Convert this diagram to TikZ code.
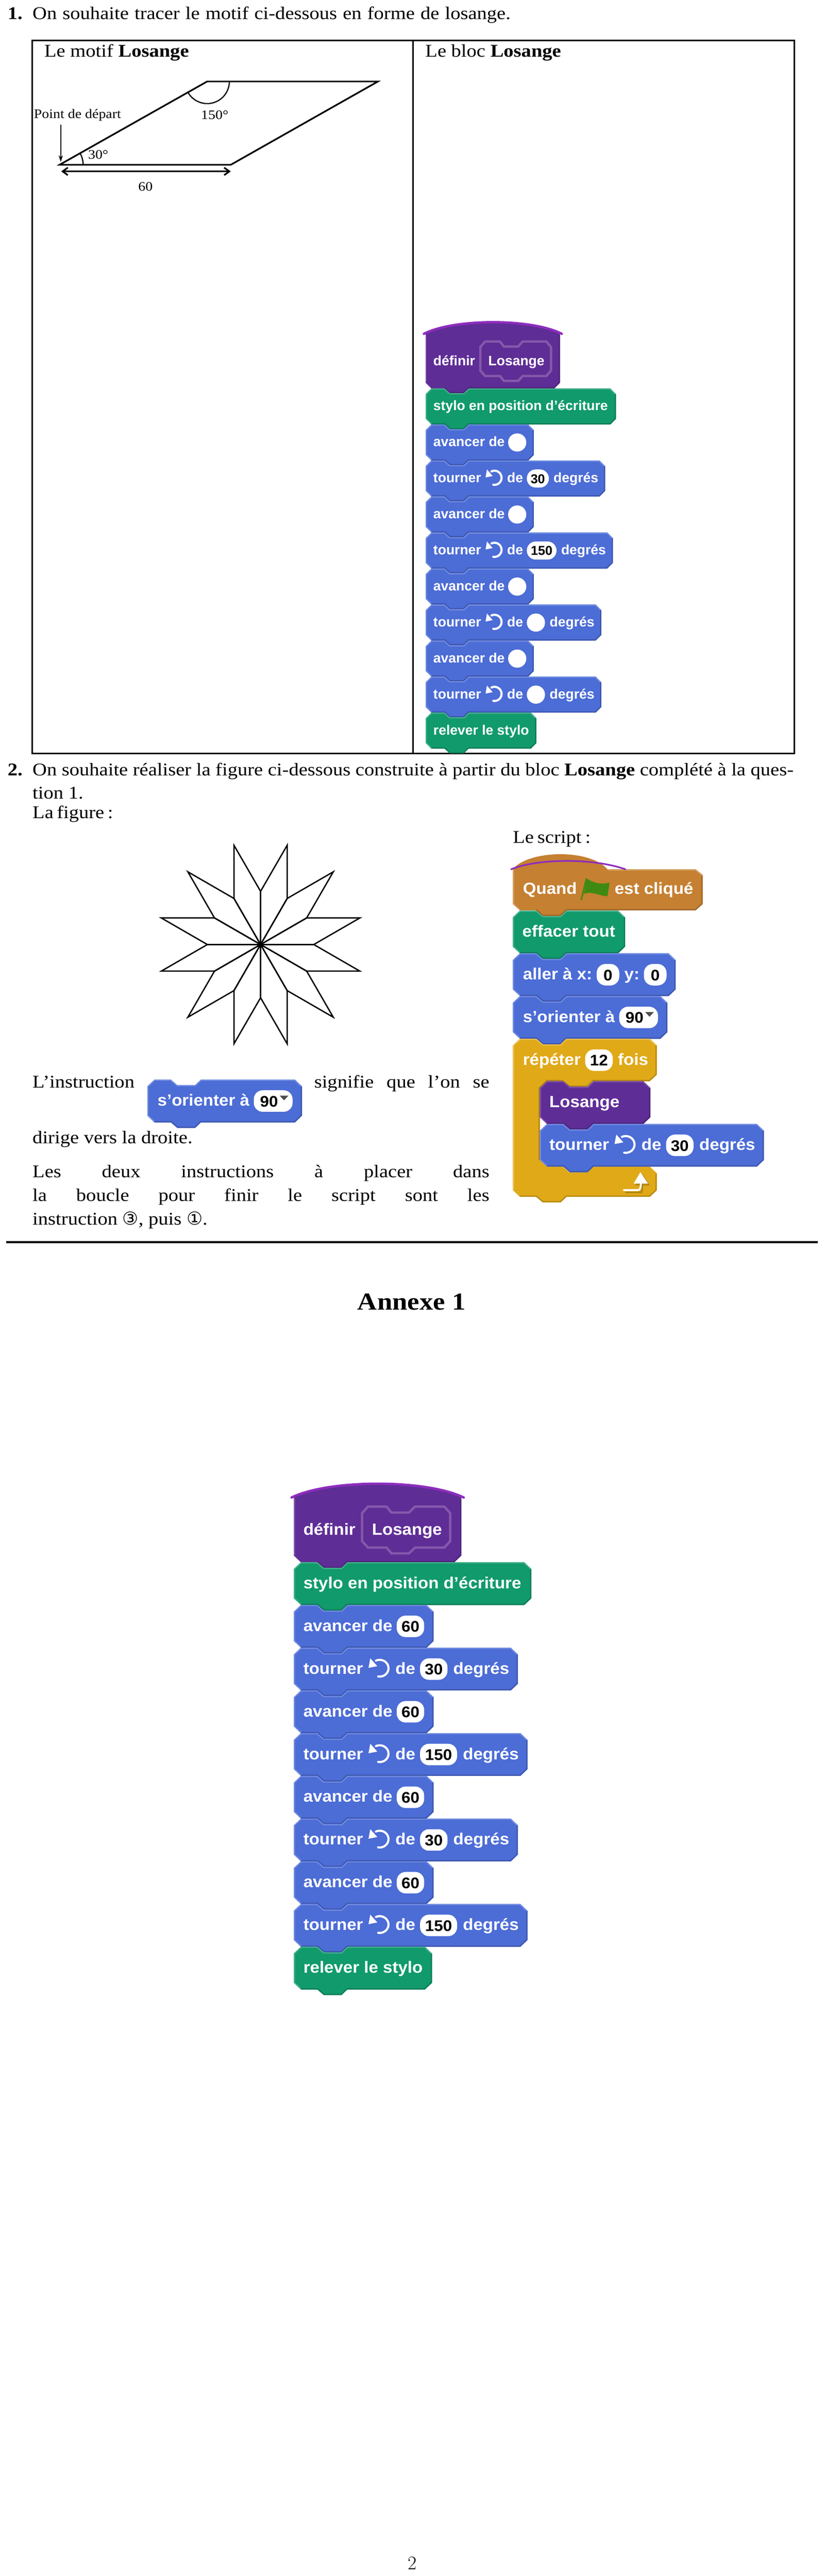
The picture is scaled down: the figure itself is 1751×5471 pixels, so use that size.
\documentclass[tikz,border=0pt]{standalone}
\usepackage{fontspec}
\usetikzlibrary{arrows.meta,calc}
\newfontfamily\cmfont{Latin Modern Roman}
\setmainfont[FakeStretch=1.11]{Liberation Serif}
\newfontfamily\blkfont{Liberation Sans}
\newfontfamily\symfont{DejaVu Sans}
\definecolor{bluef}{HTML}{4C6CD6}\definecolor{bluel}{HTML}{6F8AE0}\definecolor{blued}{HTML}{3D56AC}
\definecolor{greenf}{HTML}{119A6C}\definecolor{greenl}{HTML}{40AE8A}\definecolor{greend}{HTML}{0D7B56}
\definecolor{purplef}{HTML}{5F2D96}\definecolor{purplel}{HTML}{7A4BA8}\definecolor{purpled}{HTML}{4C2478}
\definecolor{orangef}{HTML}{C58031}\definecolor{orangel}{HTML}{D39C5A}\definecolor{oranged}{HTML}{9E6627}
\definecolor{yellowf}{HTML}{E0A918}\definecolor{yellowl}{HTML}{E9BE4C}\definecolor{yellowd}{HTML}{B38712}
\definecolor{capviolet}{HTML}{8E2DBE}\definecolor{paramline}{HTML}{8558AA}\definecolor{flagg}{HTML}{3F8A12}
\newcommand\bodyf{\fontsize{38}{44}\selectfont}
\newcommand\figf{\fontsize{27.5}{33}\selectfont}
\newcounter{nd}
\tikzset{
  bodytxt/.style={anchor=base west,inner sep=0pt,font=\bodyf,text=black},
  figtxt/.style={anchor=base,inner sep=0pt,font=\figf,text=black},
  blktxt/.style={anchor=base west,inner sep=0pt,font=\blkfont\bfseries\fontsize{29}{36}\selectfont,text=white},
  pilltxt/.style={anchor=base,inner sep=0pt,font=\blkfont\bfseries\fontsize{27.5}{34}\selectfont,text=black},
  blockscale/.style={xscale=1.248,yscale=1.186,transform shape},
}
\newcommand\blockpath[2]{(0,12) -- (12,0) -- (40,0) -- (51,10) -- (81,10) -- (91,0) -- (#1-12,0) -- (#1,12) -- (#1,#2-12) -- (#1-12,#2) -- (91,#2) -- (81,#2+10) -- (51,#2+10) -- (40,#2) -- (12,#2) -- (0,#2-12) -- cycle}
% y, w, h, colour prefix
\newcommand\stackblock[4]{%
  \begin{scope}[shift={(0,#1)}]
    \fill[#4f] \blockpath{#2}{#3};
    \begin{scope}
      \clip \blockpath{#2}{#3};
      \draw[#4l,line width=5] (12,#3) -- (0,#3-12) -- (0,12) -- (12,0) -- (40,0) -- (51,10) -- (81,10) -- (91,0) -- (#2-12,0) -- (#2,12);
      \draw[#4d,line width=5] (#2,12) -- (#2,#3-12) -- (#2-12,#3) -- (91,#3) -- (81,#3+10) -- (51,#3+10) -- (40,#3) -- (12,#3);
    \end{scope}
  \end{scope}}
\newcommand\btxt[3]{\stepcounter{nd}\node[blktxt] (b\arabic{nd}) at (#1,#2+47) {#3};}
\newcommand\pill[4]{% x, y, w, text
  \fill[white,rounded corners=19] (#1,#2+19) rectangle (#1+#3,#2+57.5);
  \stepcounter{nd}\node[pilltxt] (p\arabic{nd}) at (#1+#3/2,#2+48.5) {#4};}
\newcommand\turnicon[2]{% x offset, y
  \begin{scope}[shift={(#1,#2)}]
    \draw[white,line width=4.5,line cap=round] plot[domain=100:-115,samples=30] ({146+15*cos(\x)},{36.7+15*sin(\x)});
    \fill[white] (130,19) -- (127,36) -- (142,33) -- cycle;
  \end{scope}}
\newcommand\avancerblock[3]{% y, pill width, value
  \stackblock{#1}{175+#2+16}{76.5}{blue}
  \btxt{16}{#1}{avancer de}
  \pill{175}{#1}{#2}{#3}}
\newcommand\tournerblock[4]{% x, y, pill width, value
  \begin{scope}[shift={(#1,0)}]
  \stackblock{#2}{214.7+#3+9.7+94+16}{76.5}{blue}
  \btxt{16}{#2}{tourner}
  \turnicon{0}{#2}
  \btxt{172.7}{#2}{de}
  \pill{214.7}{#2}{#3}{#4}
  \btxt{214.7+#3+9.7}{#2}{degrés}
  \end{scope}}
\newcommand\plainblock[4]{% y,w,colour,text
  \stackblock{#1}{#2}{76.5}{#3}
  \btxt{16}{#1}{#4}}
\newcommand\definirblock{%
  \begin{scope}[shift={(0,-116)}]
    \fill[purplef] (0,0) .. controls (60,-33) and (225,-33) .. (285,0) -- (285,104) -- (273,116) -- (91,116) -- (81,126) -- (51,126) -- (40,116) -- (12,116) -- (0,104) -- cycle;
    \draw[purplel,line width=2.5] (1.2,2) -- (1.2,103);
    \draw[purpled,line width=2.5] (283.8,2) -- (283.8,103.5) -- (272.5,114.8) -- (91,114.8) -- (81,124.8) -- (51,124.8) -- (40,114.8);
    \draw[capviolet,line width=5,line cap=round] (-4,0) .. controls (60,-33) and (225,-33) .. (289,0);
    \draw[paramline,line width=5] (116,28) -- (126,16.3) -- (157.7,16.3) -- (166,27) -- (196,27) -- (206,16.3) -- (256,16.3) -- (266,28) -- (266,78) -- (256,89.7) -- (206,89.7) -- (196,100) -- (166,100) -- (157.7,89.7) -- (126,89.7) -- (116,78) -- cycle;
    \stepcounter{nd}\node[blktxt,anchor=base west] (b\arabic{nd}) at (16,67) {définir};
    \stepcounter{nd}\node[blktxt,anchor=base west] (b\arabic{nd}) at (132.7,67) {Losange};
  \end{scope}}
\newcommand\orienterblock[1]{% y
  \stackblock{#1}{263}{76.5}{blue}
  \btxt{17}{#1}{s’orienter à}
  \fill[white,rounded corners=19] (181,#1+19) rectangle (247,#1+57.5);
  \stepcounter{nd}\node[pilltxt] (p\arabic{nd}) at (207,#1+48.5) {90};
  \fill[black!70] (225,#1+28.5) -- (240,#1+28.5) -- (232.5,#1+37) -- cycle;}
\begin{document}
\begin{tikzpicture}[x=1pt,y=-1pt]
\useasboundingbox (0,0) rectangle (1751,5471);
\fill[white] (0,0) rectangle (1751,5471);

% --- question 1
\node[bodytxt] (num1) at (16,41) {\textbf{1.}};
\node[bodytxt] (q1) at (69,41) {\makebox[1015pt][s]{On souhaite tracer le motif ci-dessous en forme de losange.}};
\draw[line width=3] (68,86) rectangle (1687,1600);
\draw[line width=3] (877,86) -- (877,1600);
\node[bodytxt] (hl) at (94,121) {Le motif \textbf{Losange}};
\node[bodytxt] (hr) at (903,121) {Le bloc \textbf{Losange}};

% --- rhombus
\coordinate (A) at (126.5,350);
\coordinate (B) at (490,350);
\coordinate (C) at (802.6,173);
\coordinate (D) at (440,173);
\draw[line width=3.5,miter limit=10] (A) -- (B) -- (C) -- (D) -- cycle;
\draw[line width=2.5] plot[domain=0:150,samples=40] ({440+47*cos(\x)},{173+47*sin(\x)});
\draw[line width=2.5] plot[domain=0:-30,samples=20] ({126.5+50*cos(\x)},{350+50*sin(\x)});
\coordinate (arrowtop) at (129,265);
\coordinate (arrowtip) at (129,344);
\draw[line width=2.5,-{Stealth[length=14,width=9]}] (arrowtop) -- (arrowtip);
\coordinate (dimL) at (130,364);
\coordinate (dimR) at (490,364);
\draw[line width=3.5,{Straight Barb[length=11,width=16]}-{Straight Barb[length=11,width=16]}] (dimL) -- (dimR);
\node[figtxt,anchor=base west] (depart) at (72,251) {Point de départ};
\node[figtxt] (a150) at (456,253) {150°};
\node[figtxt,anchor=base west] (a30) at (187,338) {30°};
\node[figtxt] (l60) at (309,405) {60};

% --- block Losange incomplete
\begin{scope}[shift={(904,825)}]
  \definirblock
  \plainblock{0}{404}{green}{stylo en position d’écriture}
  \avancerblock{76.5}{38.5}{}
  \tournerblock{0}{153}{46.7}{30}
  \avancerblock{229.5}{38.5}{}
  \tournerblock{0}{306}{63}{150}
  \avancerblock{382.5}{38.5}{}
  \tournerblock{0}{459}{38.5}{}
  \avancerblock{535.5}{38.5}{}
  \tournerblock{0}{612}{38.5}{}
  \plainblock{688.5}{235}{green}{relever le stylo}
\end{scope}

% --- question 2
\node[bodytxt] (num2) at (16,1647) {\textbf{2.}};
\node[bodytxt] (q2a) at (69,1647) {\makebox[1616pt][s]{On souhaite réaliser la figure ci-dessous construite à partir du bloc \textbf{Losange} complété à la ques-}};
\node[bodytxt] (q2b) at (69,1697) {tion 1.};
\node[bodytxt] (q2c) at (69,1738) {\makebox[168pt][s]{La figure :}};
\node[bodytxt] (scr) at (1089,1791) {\makebox[165pt][s]{Le script :}};

% --- star
\coordinate (O) at (553.3,2006);
\foreach \k in {0,30,...,330}{
  \draw[line width=2.8,miter limit=12] (O) -- ($(O)+(\k:113)$) -- ($(O)+(\k+15:218.3)$) -- ($(O)+(\k+30:113)$) -- cycle;
}

% --- text column
\node[bodytxt] (i1) at (69,2310) {L’instruction};
\node[bodytxt] (i2) at (667,2310) {\makebox[372pt][s]{signifie que l’on se}};
\node[bodytxt] (i3) at (69,2429) {dirige vers la droite.};
\node[bodytxt] (i4) at (69,2501) {\makebox[970pt][s]{Les deux instructions à placer dans}};
\node[bodytxt] (i5) at (69,2551) {\makebox[970pt][s]{la boucle pour finir le script sont les}};
\node[bodytxt] (i6) at (69,2601) {instruction {\symfont ③}, puis {\symfont ①}.};

% --- inline block
\begin{scope}[shift={(313,2293)},blockscale]
  \orienterblock{0}
\end{scope}

% --- script
\begin{scope}[shift={(1089,1934)},blockscale]
  % hat block
  \begin{scope}[shift={(0,-77)}]
    \fill[orangef] (0,3) .. controls (25,-31) and (130,-35) .. (161,3) -- (311,3) -- (323,13) -- (323,65) -- (311,76.5) -- (91,76.5) -- (81,86.5) -- (51,86.5) -- (40,76.5) -- (12,76.5) -- (0,65) -- cycle;
    \draw[oranged,line width=2.5] (321.8,13) -- (321.8,65) -- (310.5,75.3) -- (91,75.3) -- (81,85.3) -- (51,85.3) -- (40,75.3);
    \draw[orangel,line width=2.5] (161,4.2) -- (311,4.2) -- (322,14);
    \draw[orangel,line width=2.5] (1.2,3) -- (1.2,65) -- (12,75.3);
    \draw[capviolet,line width=3.5,line cap=round] (-3,3) .. controls (40,-16) and (135,-18) .. (191.5,3);
    \btxt{17}{0}{Quand}
    \fill[flagg] (125.6,19.5) .. controls (140,29) and (150,30) .. (164.6,27) -- (161,51) .. controls (150,52) and (135,41) .. (121,47) -- cycle;
    \draw[flagg,line width=3] (116.4,58) -- (125,19.5);
    \btxt{173}{0}{est cliqué}
  \end{scope}
  \plainblock{0}{191}{green}{effacer tout}
  % aller
  \stackblock{76.5}{277}{76.5}{blue}
  \btxt{17}{76.5}{aller à x:}
  \pill{142.6}{76.5}{38.5}{0}
  \btxt{189.5}{76.5}{y:}
  \pill{223}{76.5}{38.5}{0}
  \orienterblock{153}
  % repeat block
  \begin{scope}[shift={(0,229.5)}]
    \fill[yellowf] (0,12) -- (12,0) -- (40,0) -- (51,10) -- (81,10) -- (91,0) -- (233,0) -- (245,12) -- (245,64) -- (233,76) -- (136,76) -- (126,86) -- (96,86) -- (84,76) -- (58,76) -- (46,88) -- (46,217) -- (58,229) -- (85,229) -- (96,239) -- (126,239) -- (136,229) -- (233,229) -- (245,241) -- (245,271) -- (233,283) -- (91,283) -- (81,293) -- (51,293) -- (40,283) -- (12,283) -- (0,271) -- cycle;
    \draw[yellowl,line width=2.5] (1.2,270) -- (1.2,12.5) -- (12.5,1.2) -- (40,1.2) -- (51,11.2) -- (81,11.2) -- (91,1.2) -- (233,1.2) -- (244,12);
    \draw[yellowd,line width=2.5] (243.8,12) -- (243.8,64) -- (232.5,74.8) -- (136,74.8) -- (126,84.8) -- (96,84.8) -- (84,74.8) -- (58,74.8) -- (44.8,88) -- (44.8,217);
    \draw[yellowd,line width=2.5] (243.8,241) -- (243.8,271) -- (232.5,281.8) -- (91,281.8) -- (81,291.8) -- (51,291.8) -- (40,281.8) -- (12,281.8);
    \btxt{17}{0}{répéter}
    \pill{123}{0}{47}{12}
    \btxt{178.5}{0}{fois}
    % return arrow
    \draw[yellowd,line width=4,line join=round,line cap=round] (192,275) -- (219,275) -- (221,260);
    \fill[yellowd] (220,242) -- (208,262.5) -- (233,262.5) -- cycle;
    \draw[white,line width=4,line join=round,line cap=round] (188.6,271) -- (212,271) .. controls (216,271) and (217.8,269) .. (217.8,257);
    \fill[white] (217,238.8) -- (205.5,259.4) -- (230,259.4) -- cycle;
  \end{scope}
  % inner blocks
  \begin{scope}[shift={(46,305.5)}]
    \plainblock{0}{188}{purple}{Losange}
  \end{scope}
  \tournerblock{46}{382}{46.7}{30}
\end{scope}

% --- separator and title
\coordinate (ruleL) at (13,2638);
\coordinate (ruleR) at (1737,2638);
\draw[line width=3.5] (ruleL) -- (ruleR);
\node[inner sep=0pt,anchor=base,font=\fontsize{52}{62}\selectfont] (annexe) at (874,2782) {\textbf{Annexe 1}};

% --- annex stack
\begin{scope}[shift={(624,3318)},blockscale]
  \definirblock
  \plainblock{0}{404}{green}{stylo en position d’écriture}
  \avancerblock{76.5}{46.7}{60}
  \tournerblock{0}{153}{46.7}{30}
  \avancerblock{229.5}{46.7}{60}
  \tournerblock{0}{306}{63}{150}
  \avancerblock{382.5}{46.7}{60}
  \tournerblock{0}{459}{46.7}{30}
  \avancerblock{535.5}{46.7}{60}
  \tournerblock{0}{612}{63}{150}
  \plainblock{688.5}{235}{green}{relever le stylo}
\end{scope}

\node[bodytxt,anchor=base,font=\cmfont\fontsize{41}{48}\selectfont] (page) at (875,5457) {2};
\end{tikzpicture}
\end{document}
